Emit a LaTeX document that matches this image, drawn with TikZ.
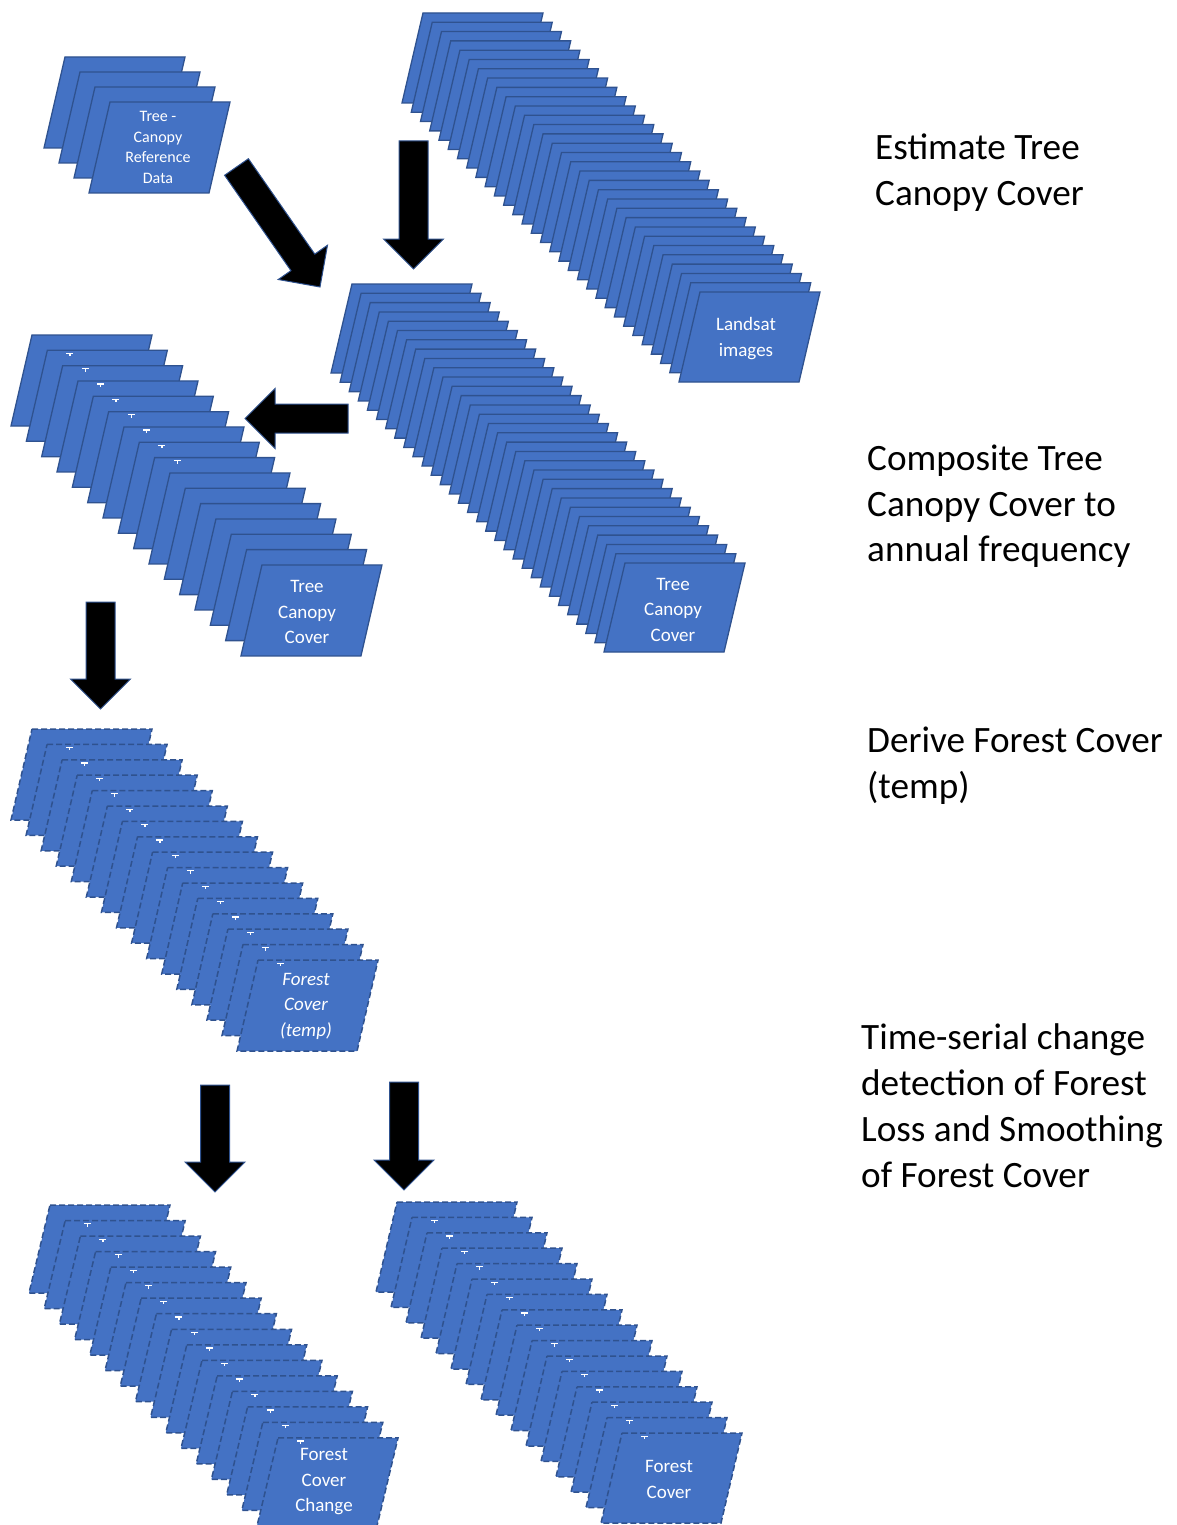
\documentclass[tikz,border=0pt]{standalone}
\usepackage{fontspec}
\setmainfont{Carlito}
\usetikzlibrary{calc}
\definecolor{cardfill}{HTML}{4472C4}
\definecolor{cardline}{HTML}{2F528F}
\tikzset{
  cardsolid/.style={fill=cardfill, draw=cardline, line width=1.3pt, line join=miter},
  carddash/.style={fill=cardfill, draw=cardline, line width=1.5pt, dash pattern=on 6pt off 3pt},
  cardtext/.style={text=white, align=center, inner sep=0pt},
  blockarrow/.style={fill=black, draw=cardline, line width=1pt, line join=miter},
  steplabel/.style={anchor=base west, inner sep=0pt, font=\fontsize{37.2}{46}\selectfont, text=black},
}
% #1 x0, #2 y0, #3 dx, #4 dy, #5 last index, #6 style, #7 height, #8 last ticked card
\newcommand\cardstack[8]{%
  \foreach \i in {0,...,#5}{%
    \pgfmathsetmacro\cx{#1+\i*#3}%
    \pgfmathsetmacro\cy{#2+\i*#4}%
    \draw[#6] (\cx,\cy) -- ++(120,0) -- ++(-21,#7) -- ++(-120,0) -- cycle;
    \ifnum\i>0 \ifnum\i>#8\relax\else
      \fill[white] (\cx+19,\cy+2.5) rectangle (\cx+26,\cy+3.8);
      \fill[white] (\cx+22,\cy+3.8) rectangle (\cx+23.2,\cy+6);
    \fi\fi
  }%
}
% #1 tail coordinate, #2 tip coordinate
\newcommand\blockarr[2]{%
  \coordinate (#1h) at ($(#2)!30pt!(#1)$);
  \draw[blockarrow] ($(#1)!14.5pt!90:(#2)$) -- ($(#1h)!14.5pt!-90:(#1)$)
    -- ($(#1h)!30pt!-90:(#1)$) -- (#2) -- ($(#1h)!30pt!90:(#1)$)
    -- ($(#1h)!14.5pt!90:(#1)$) -- ($(#1)!14.5pt!-90:(#2)$) -- cycle;
}
\begin{document}
\begin{tikzpicture}[x=1pt,y=-1pt]
\useasboundingbox (0,0) rectangle (1177,1525);
% stacks
\cardstack{65}{57}{15}{15}{3}{cardsolid}{91}{0}
\cardstack{423}{13}{9.233}{9.3}{30}{cardsolid}{90}{0}
\cardstack{352}{284}{9.1}{9.3}{30}{cardsolid}{89}{0}
\cardstack{32}{335}{15.33}{15.33}{15}{cardsolid}{91}{8}
\cardstack{32}{729}{15.07}{15.4}{15}{carddash}{91}{15}
\cardstack{50}{1205}{15.2}{15.53}{15}{carddash}{88}{15}
\cardstack{397}{1202}{15}{15.4}{15}{carddash}{90}{15}
% card texts
\node[cardtext, font=\fontsize{16}{20.5}\selectfont] (ref) at (158,147.5) {Tree -\\Canopy\\Reference\\Data};
\node[cardtext, font=\fontsize{19}{25.5}\selectfont] (landsat) at (746,338.5) {Landsat\\images};
\node[cardtext, font=\fontsize{19}{25.5}\selectfont] (tccr) at (673,609.5) {Tree\\Canopy\\Cover};
\node[cardtext, font=\fontsize{19}{25.5}\selectfont] (tccl) at (307,612) {Tree\\Canopy\\Cover};
\node[cardtext, font=\fontsize{19}{25.5}\selectfont\itshape] (fct) at (306,1006) {Forest\\Cover\\(temp)};
\node[cardtext, font=\fontsize{19}{25.5}\selectfont] (fcc) at (324,1482) {Forest\\Cover\\Change};
\node[cardtext, font=\fontsize{19}{25.5}\selectfont] (fc) at (669,1479.5) {Forest\\Cover};
% arrows
\coordinate (a1) at (236.5,167); \coordinate (b1) at (320,287);
\coordinate (a2) at (413.5,141); \coordinate (b2) at (413.5,269);
\coordinate (a3) at (348,418.5); \coordinate (b3) at (245,418.5);
\coordinate (a4) at (100.5,602); \coordinate (b4) at (100.5,709);
\coordinate (a5) at (215,1085); \coordinate (b5) at (215,1192);
\coordinate (a6) at (404,1082); \coordinate (b6) at (404,1190);
\blockarr{a1}{b1}
\blockarr{a2}{b2}
\blockarr{a3}{b3}
\blockarr{a4}{b4}
\blockarr{a5}{b5}
\blockarr{a6}{b6}
% step labels
\node[steplabel] (s1a) at (875,160) {Estimate Tree};
\node[steplabel] (s1b) at (875,206) {Canopy Cover};
\node[steplabel] (s2a) at (867,470) {Composite Tree};
\node[steplabel] (s2b) at (867,516) {Canopy Cover to};
\node[steplabel] (s2c) at (867,561) {annual frequency};
\node[steplabel] (s3a) at (867,752) {Derive Forest Cover};
\node[steplabel] (s3b) at (867,798) {(temp)};
\node[steplabel] (s4a) at (861,1049) {Time-serial change};
\node[steplabel] (s4b) at (861,1095) {detection of Forest};
\node[steplabel] (s4c) at (861,1141) {Loss and Smoothing};
\node[steplabel] (s4d) at (861,1187) {of Forest Cover};
\end{tikzpicture}
\end{document}
